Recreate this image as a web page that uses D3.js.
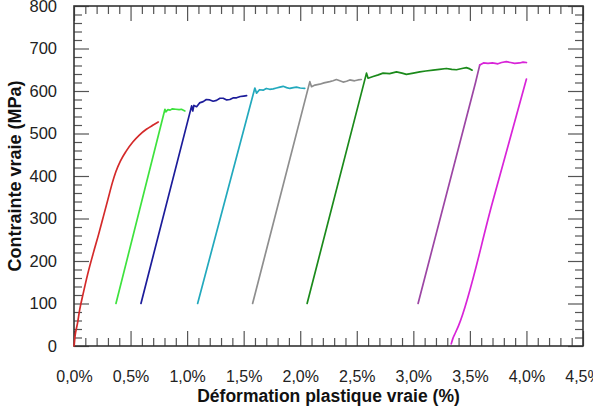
<!DOCTYPE html>
<html><head><meta charset="utf-8">
<script src="https://cdn.jsdelivr.net/npm/d3@7"></script>
<style>
html,body{margin:0;padding:0;background:#fff;}
svg{display:block;font-family:"Liberation Sans",Arial,Helvetica,sans-serif;}
</style></head>
<body><svg id="c" width="593" height="407"></svg>
<script>
// ---- data (strain %, true stress MPa) ----
const xTickValues = [0,0.5,1.0,1.5,2.0,2.5,3.0,3.5,4.0,4.5];
const xTickLabels = ["0,0%","0,5%","1,0%","1,5%","2,0%","2,5%","3,0%","3,5%","4,0%","4,5%"];
const yTickValues = [0,100,200,300,400,500,600,700,800];
const yTickLabels = ["0","100","200","300","400","500","600","700","800"];
const xTitle = "Déformation plastique vraie (%)";
const yTitle = "Contrainte vraie (MPa)";

const redCurve = [[0,0],[0.01,25],[0.03,52],[0.05,85],[0.08,122],[0.12,168],[0.17,218],[0.22,265],[0.26,305],[0.30,345],[0.34,385],[0.37,410],[0.41,435],[0.46,458],[0.52,480],[0.58,497],[0.64,510],[0.70,520],[0.745,527]];
const greenCurve = [[0.371,100],[0.804,557],[0.812,551],[0.83,556],[0.85,555],[0.87,558],[0.90,557],[0.93,556],[0.95,557],[0.98,553]];
const blueCurve = [[0.592,100],[1.04,565],[1.05,553],[1.06,566],[1.084,563],[1.11,572],[1.142,575],[1.17,580],[1.201,579],[1.23,576],[1.26,578],[1.29,583],[1.319,583],[1.35,579],[1.378,580],[1.41,584],[1.437,584],[1.47,587],[1.50,588],[1.526,589]];
const cyanCurve = [[1.093,100],[1.599,607],[1.614,595],[1.64,603],[1.672,602],[1.70,606],[1.73,604],[1.761,605],[1.79,607],[1.82,609],[1.849,611],[1.88,608],[1.908,606],[1.94,608],[1.967,609],[2.0,607],[2.04,606]];
const grayCurve = [[1.579,100],[2.085,622],[2.10,610],[2.13,614],[2.173,616],[2.21,619],[2.261,622],[2.29,624],[2.32,627],[2.35,624],[2.379,621],[2.41,623],[2.438,626],[2.48,624],[2.51,626],[2.54,627]];
const darkGreenCurve = [[2.061,100],[2.586,642],[2.60,630],[2.644,634],[2.69,638],[2.732,642],[2.79,641],[2.851,645],[2.90,642],[2.939,639],[3.0,642],[3.057,645],[3.11,647],[3.174,649],[3.23,651],[3.292,653],[3.34,651],[3.381,650],[3.43,653],[3.469,655],[3.50,652],[3.52,649]];
const purpleRise = [[3.042,100],[3.55,620],[3.587,661]];
const magentaPlateau = [[3.587,661],[3.62,666],[3.66,665],[3.70,666],[3.748,664],[3.78,667],[3.822,669],[3.86,667],[3.896,665],[3.94,666],[3.97,668],[4.0,667]];
const magentaReload = [[3.335,5],[3.35,18],[3.37,30],[3.40,48],[3.70,338],[4.0,628]];

const series = [
  {pts: redCurve, color: "#d42a2a", smooth: true},
  {pts: greenCurve, color: "#3ee23e"},
  {pts: blueCurve, color: "#1c1c9a"},
  {pts: cyanCurve, color: "#22a9bd"},
  {pts: grayCurve, color: "#8e8e8e"},
  {pts: darkGreenCurve, color: "#1b8a1b"},
  {pts: purpleRise, color: "#9c46a4"},
  {pts: magentaPlateau, color: "#d824d8"},
  {pts: magentaReload, color: "#d824d8", smooth: true}
];

// ---- layout ----
const L = 74, R = 583, T = 6, B = 346;
const x = d3.scaleLinear().domain([0,4.5]).range([L,R]);
const y = d3.scaleLinear().domain([0,800]).range([B,T]);
const svg = d3.select("#c");

const minorX = d3.range(0,4.5001,0.1).filter(v => Math.abs(v*2 - Math.round(v*2))>1e-6);
const minorY = d3.range(0,800.001,20).filter(v => v % 100 !== 0);
const tickColor = "#555";

function addAxis(gen, tr) {
  const g = svg.append("g").attr("transform", tr).call(gen);
  g.select(".domain").remove();
  g.selectAll("line").attr("stroke", tickColor).attr("stroke-width", 1.2);
  return g;
}
// bottom
const bx = addAxis(d3.axisBottom(x).tickValues(xTickValues).tickSizeInner(-15).tickSizeOuter(0)
  .tickPadding(25).tickFormat((d,i)=>xTickLabels[i]), `translate(0,${B})`);
bx.selectAll("text").attr("font-size", 16).attr("fill", "#222").attr("font-family","Liberation Sans, Arial, sans-serif");
addAxis(d3.axisBottom(x).tickValues(minorX).tickSize(-8).tickFormat(""), `translate(0,${B})`);
// top
addAxis(d3.axisTop(x).tickValues(xTickValues).tickSize(-15).tickFormat(""), `translate(0,${T})`);
addAxis(d3.axisTop(x).tickValues(minorX).tickSize(-8).tickFormat(""), `translate(0,${T})`);
// left
const ly = addAxis(d3.axisLeft(y).tickValues(yTickValues).tickSizeInner(-15).tickSizeOuter(0)
  .tickPadding(17).tickFormat((d,i)=>yTickLabels[i]), `translate(${L},0)`);
ly.selectAll("text").attr("font-size", 16.5).attr("fill", "#222").attr("font-family","Liberation Sans, Arial, sans-serif");
addAxis(d3.axisLeft(y).tickValues(minorY).tickSize(-8).tickFormat(""), `translate(${L},0)`);
// right
addAxis(d3.axisRight(y).tickValues(yTickValues).tickSize(-15).tickFormat(""), `translate(${R},0)`);
addAxis(d3.axisRight(y).tickValues(minorY).tickSize(-8).tickFormat(""), `translate(${R},0)`);

// frame
svg.append("rect").attr("x", L).attr("y", T).attr("width", R-L).attr("height", B-T)
  .attr("fill", "none").attr("stroke", "#333").attr("stroke-width", 1.6);

// curves
const lineStraight = d3.line().x(d => x(d[0])).y(d => y(d[1]));
const lineSmooth = d3.line().x(d => x(d[0])).y(d => y(d[1])).curve(d3.curveMonotoneX);
svg.append("g").selectAll("path").data(series).join("path")
  .attr("d", d => (d.smooth ? lineSmooth : lineStraight)(d.pts)).attr("fill", "none")
  .attr("stroke", d => d.color).attr("stroke-width", 1.7)
  .attr("stroke-linejoin", "round").attr("stroke-linecap", "round");

// titles
svg.append("text").attr("x", (L+R)/2).attr("y", 402).attr("text-anchor", "middle")
  .attr("font-size", 17.5).attr("font-weight", "bold").attr("fill", "#111").text(xTitle);
svg.append("text").attr("transform", `translate(21,${(T+B)/2}) rotate(-90)`).attr("text-anchor", "middle")
  .attr("font-size", 18).attr("font-weight", "bold").attr("fill", "#111").text(yTitle);
</script></body></html>
